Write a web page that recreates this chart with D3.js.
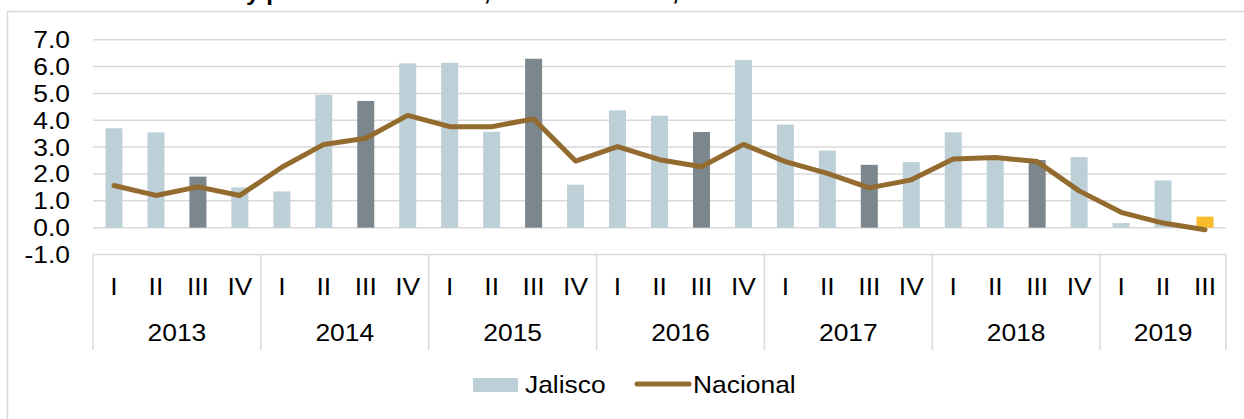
<!DOCTYPE html>
<html>
<head>
<meta charset="utf-8">
<script src="https://cdn.jsdelivr.net/npm/d3@7"></script>
<style>
  body { margin: 0; background: #fff; }
  svg text { font-family: "Liberation Sans", Arial, sans-serif; fill: #000; }
</style>
</head>
<body>
<script>
// datos (variación anual, %)
var years = ["2013", "2014", "2015", "2016", "2017", "2018", "2019"];
var quarters = ["I", "II", "III", "IV"];
var yTicks = [-1, 0, 1, 2, 3, 4, 5, 6, 7];
var jalisco = [3.7, 3.55, 1.9, 1.5, 1.35, 4.95, 4.72, 6.12, 6.14, 3.57, 6.29, 1.6,
  4.37, 4.17, 3.56, 6.24, 3.84, 2.87, 2.34, 2.44, 3.55, 2.6, 2.52, 2.63, 0.17, 1.76, 0.41];
var nacional = [1.57, 1.2, 1.52, 1.2, 2.25, 3.1, 3.33, 4.18, 3.76, 3.76, 4.05, 2.48,
  3.02, 2.53, 2.27, 3.1, 2.46, 2.02, 1.48, 1.78, 2.56, 2.61, 2.46, 1.37, 0.57, 0.17, -0.08];

var W = 1244, H = 419;
var plotL = 93, plotR = 1226, plotT = 39.7, plotB = 254.5;
var SX = 1.1; // el texto original esta algo ensanchado

// categorías trimestrales
var cats = [];
years.forEach(function (y) {
  quarters.forEach(function (q) {
    if (cats.length < jalisco.length) cats.push({ year: y, q: q });
  });
});
cats.forEach(function (c, i) { c.i = i; c.jal = jalisco[i]; c.nac = nacional[i]; });

var svg = d3.select("body").append("svg").attr("width", W).attr("height", H);

function at(px, py) { return "translate(" + px + "," + py + ") scale(" + SX + ",1)"; }

// marco exterior
svg.append("rect").attr("x", 7.5).attr("y", 11.5).attr("width", W).attr("height", H)
  .attr("fill", "none").attr("stroke", "#d9d9d9").attr("stroke-width", 1.5);

// titulo (cortado en la parte superior)
svg.append("text").attr("transform", at(244, -0.5)).attr("text-anchor", "end")
  .attr("font-size", 22).attr("font-weight", "bold")
  .text("Gráfica 1. Actividad económica de Jalisco");
svg.append("text").attr("transform", at(246, -0.5))
  .attr("font-size", 22).attr("font-weight", "bold")
  .text("y promedio Nacional, I 2013 – III 2019, variación % anual");

var x = d3.scaleBand().domain(d3.range(cats.length)).range([plotL, plotR])
  .paddingInner(0.595).paddingOuter(0.2975);
var step = x.step();
var y = d3.scaleLinear().domain([-1, 7]).range([plotB, plotT]);

function cx(i) { return x(i) + x.bandwidth() / 2; }

// lineas de cuadricula
svg.append("g").selectAll("line").data(yTicks).enter().append("line")
  .attr("x1", plotL).attr("x2", plotR)
  .attr("y1", function (d) { return y(d); }).attr("y2", function (d) { return y(d); })
  .attr("stroke", "#d9d9d9").attr("stroke-width", 1.5);

// etiquetas eje y
svg.append("g").selectAll("text").data(yTicks).enter().append("text")
  .attr("transform", function (d) { return at(70, y(d)); })
  .attr("dy", "0.35em").attr("text-anchor", "end").attr("font-size", 24)
  .text(function (d) { return d.toFixed(1); });

// eje de categorías (dos niveles)
var yearEdges = d3.range(years.length + 1).map(function (k) {
  return Math.min(plotL + k * 4 * step, plotR);
});
svg.append("g").selectAll("line").data(yearEdges).enter().append("line")
  .attr("x1", function (d) { return d; }).attr("x2", function (d) { return d; })
  .attr("y1", plotB).attr("y2", 350)
  .attr("stroke", "#d9d9d9").attr("stroke-width", 1.5);

svg.append("g").selectAll("text").data(cats).enter().append("text")
  .attr("transform", function (d) { return at(cx(d.i), 287); }).attr("dy", "0.35em")
  .attr("text-anchor", "middle").attr("font-size", 24)
  .text(function (d) { return d.q; });

svg.append("g").selectAll("text").data(years).enter().append("text")
  .attr("transform", function (d, k) { return at((yearEdges[k] + yearEdges[k + 1]) / 2, 333); })
  .attr("dy", "0.35em").attr("text-anchor", "middle").attr("font-size", 24)
  .text(function (d) { return d; });

// barras Jalisco
function barColor(d) {
  if (d.i === cats.length - 1) return "#fbbc2c";
  if (d.q === "III") return "#7b868d";
  return "#bdd0d8";
}
svg.append("g").selectAll("rect").data(cats).enter().append("rect")
  .attr("x", function (d) { return x(d.i); })
  .attr("y", function (d) { return y(Math.max(0, d.jal)); })
  .attr("width", x.bandwidth())
  .attr("height", function (d) { return Math.abs(y(d.jal) - y(0)); })
  .attr("fill", barColor);

// linea Nacional
var line = d3.line().x(function (d) { return cx(d.i); }).y(function (d) { return y(d.nac); });
svg.append("path").datum(cats).attr("d", line)
  .attr("fill", "none").attr("stroke", "#936b2e").attr("stroke-width", 5)
  .attr("stroke-linejoin", "round").attr("stroke-linecap", "round");

// leyenda
var lg = svg.append("g");
lg.append("rect").attr("x", 473).attr("y", 378).attr("width", 45).attr("height", 14).attr("fill", "#bdd0d8");
lg.append("text").attr("transform", at(525, 385)).attr("dy", "0.35em").attr("font-size", 24).text("Jalisco");
lg.append("line").attr("x1", 637).attr("x2", 689).attr("y1", 384).attr("y2", 384)
  .attr("stroke", "#936b2e").attr("stroke-width", 5).attr("stroke-linecap", "round");
lg.append("text").attr("transform", at(693, 385)).attr("dy", "0.35em").attr("font-size", 24).text("Nacional");
</script>
</body>
</html>
